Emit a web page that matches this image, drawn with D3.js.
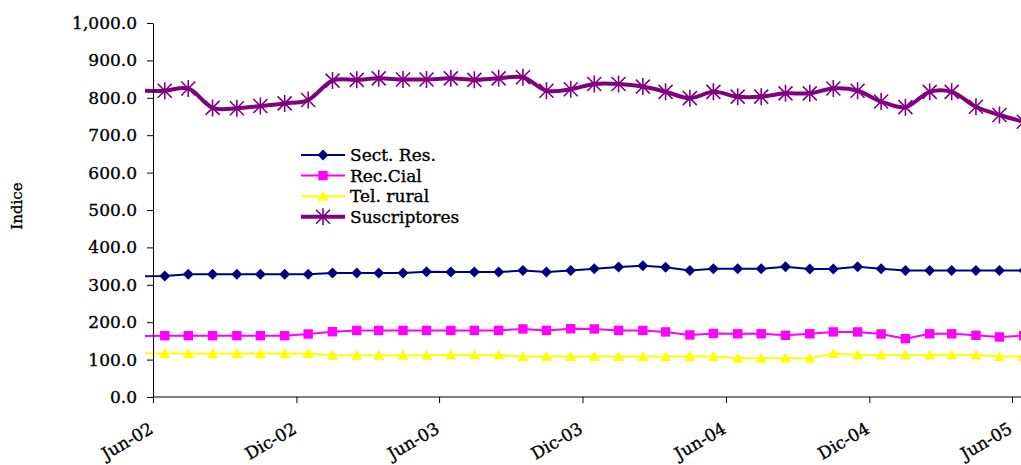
<!DOCTYPE html>
<html>
<head>
<meta charset="utf-8">
<script src="https://cdn.jsdelivr.net/npm/d3@7"></script>
<style>
  body { margin: 0; background: #fff; }
  text { font-family: "DejaVu Serif", serif; fill: #000; stroke: #000; stroke-width: 0.35px; }
</style>
</head>
<body>
<svg id="chart" width="1021" height="465"></svg>
<script>
// monthly values, May-02 .. Jun-05 (first point sits just left of the axis)
const months = d3.range(38).map(i => new Date(2002, 4 + i, 16));

const sectRes = [323, 323.5, 328, 328, 328, 328, 328, 328, 331.5, 331.5, 331.5, 331.5, 335,
  334, 334, 334, 338, 334, 338, 343, 347.6, 351, 347, 338, 343,
  343, 343, 348, 342, 342, 348, 343, 338, 338, 338, 338, 338, 338];
const recCial = [163, 164, 164, 164, 164, 164, 164, 168.5, 174.6, 178, 178, 178, 178,
  178, 178, 178, 182, 178, 182.6, 182, 178, 178, 174, 166, 170,
  169, 169, 165, 169, 174, 174, 168.5, 156, 169, 169, 165, 160.5, 164];
const telRural = [117, 116, 116, 116, 116, 116, 116, 116, 111.5, 111.5, 111.5, 111.5, 111.5,
  112, 112, 112, 108, 108, 108, 108, 108, 108, 108, 108, 108,
  103.5, 103.5, 103.5, 103.5, 116, 112, 112, 112, 112, 112, 112, 108, 108];
const suscriptores = [819, 819, 825, 773, 772, 778, 785, 794, 846, 848, 852, 849, 849,
  852, 848, 852, 855, 819, 823, 837, 837, 830, 816, 799, 816,
  803, 803, 812, 812, 825, 819, 790, 775, 816, 816, 776, 754, 736];

const tickDates = d3.range(7).map(i => new Date(2002, 5 + i * 6, 1));
const tickLabels = ["Jun-02", "Dic-02", "Jun-03", "Dic-03", "Jun-04", "Dic-04", "Jun-05"];
const yTicks = d3.range(0, 1001, 100);

const series = [
  { name: "Sect. Res.", values: sectRes, color: "#000080", width: 2, marker: "diamond" },
  { name: "Rec.Cial", values: recCial, color: "#ff00ff", width: 2, marker: "square" },
  { name: "Tel. rural", values: telRural, color: "#ffff00", width: 2, marker: "triangle" },
  { name: "Suscriptores", values: suscriptores, color: "#800080", width: 4, marker: "star", smooth: true }
];

const svg = d3.select("#chart");
const plotLeft = 153, plotRight = 1012, plotTop = 23, plotBottom = 397;

const x = d3.scaleTime().domain([tickDates[0], tickDates[6]]).range([plotLeft, plotRight]);
const y = d3.scaleLinear().domain([0, 1000]).range([plotBottom, plotTop]);

svg.append("defs").append("clipPath").attr("id", "plot")
  .append("rect").attr("x", 145).attr("y", 0).attr("width", 1021 - 145).attr("height", 465);

function drawMarker(g, type, color) {
  if (type === "diamond") {
    g.append("path").attr("d", "M0,-5.5L5.5,0L0,5.5L-5.5,0Z").attr("fill", color);
  } else if (type === "square") {
    g.append("rect").attr("x", -4.7).attr("y", -4.7).attr("width", 9.4).attr("height", 9.4).attr("fill", color);
  } else if (type === "triangle") {
    g.append("path").attr("d", "M0,-5.5L5.5,4.5L-5.5,4.5Z").attr("fill", color);
  } else if (type === "star") {
    g.append("path").attr("d", "M0,-8.5V8.5M-7,-7L7,7M-7,7L7,-7")
      .attr("stroke", color).attr("stroke-width", 1.6).attr("fill", "none");
  }
}

const plot = svg.append("g").attr("clip-path", "url(#plot)");

series.forEach(s => {
  const line = d3.line()
    .x((d, i) => x(months[i]))
    .y(d => y(d))
    .curve(s.smooth ? d3.curveCatmullRom.alpha(0.5) : d3.curveLinear);
  plot.append("path")
    .datum(s.values)
    .attr("d", line)
    .attr("fill", "none")
    .attr("stroke", s.color)
    .attr("stroke-width", s.width)
    .attr("stroke-linejoin", "round");
  s.values.forEach((v, i) => {
    if (i === 0) return;
    const g = plot.append("g").attr("transform", `translate(${x(months[i])},${y(v)})`);
    drawMarker(g, s.marker, s.color);
  });
});

// y axis
const yAxis = svg.append("g").attr("transform", `translate(${plotLeft},0)`)
  .call(d3.axisLeft(y).tickValues(yTicks).tickFormat(d3.format(",.1f")).tickSize(6).tickSizeOuter(0));
yAxis.select(".domain").attr("stroke", "#000");
yAxis.selectAll("text").attr("font-size", 17).attr("font-family", "DejaVu Serif").attr("dx", -7);

// x axis
const xAxis = svg.append("g").attr("transform", `translate(0,${plotBottom})`)
  .call(d3.axisBottom(x).tickValues(tickDates).tickFormat((d, i) => tickLabels[i]).tickSize(6).tickSizeOuter(0));
xAxis.select(".domain").attr("stroke", "#000").attr("d", `M${plotLeft},0H1021`);
xAxis.selectAll("text")
  .attr("font-size", 17).attr("font-family", "DejaVu Serif")
  .attr("text-anchor", "end")
  .attr("transform", "translate(-2,30) rotate(-30)")
  .attr("y", 0).attr("dy", "0.35em");

// axis title
svg.append("text")
  .attr("transform", "translate(22,206) rotate(-90)")
  .attr("text-anchor", "middle")
  .attr("font-size", 15)
  .text("Indice");

// legend
const legend = svg.append("g").attr("transform", "translate(301,155)");
series.forEach((s, i) => {
  const row = legend.append("g").attr("transform", `translate(0,${i * 20.6})`);
  row.append("line").attr("x1", 0).attr("x2", 44).attr("y1", 0).attr("y2", 0)
    .attr("stroke", s.color).attr("stroke-width", s.width);
  const m = row.append("g").attr("transform", "translate(22,0)");
  drawMarker(m, s.marker, s.color);
  row.append("text").attr("x", 49).attr("y", 0).attr("dy", "0.35em")
    .attr("font-size", 17).text(s.name);
});
</script>
</body>
</html>
